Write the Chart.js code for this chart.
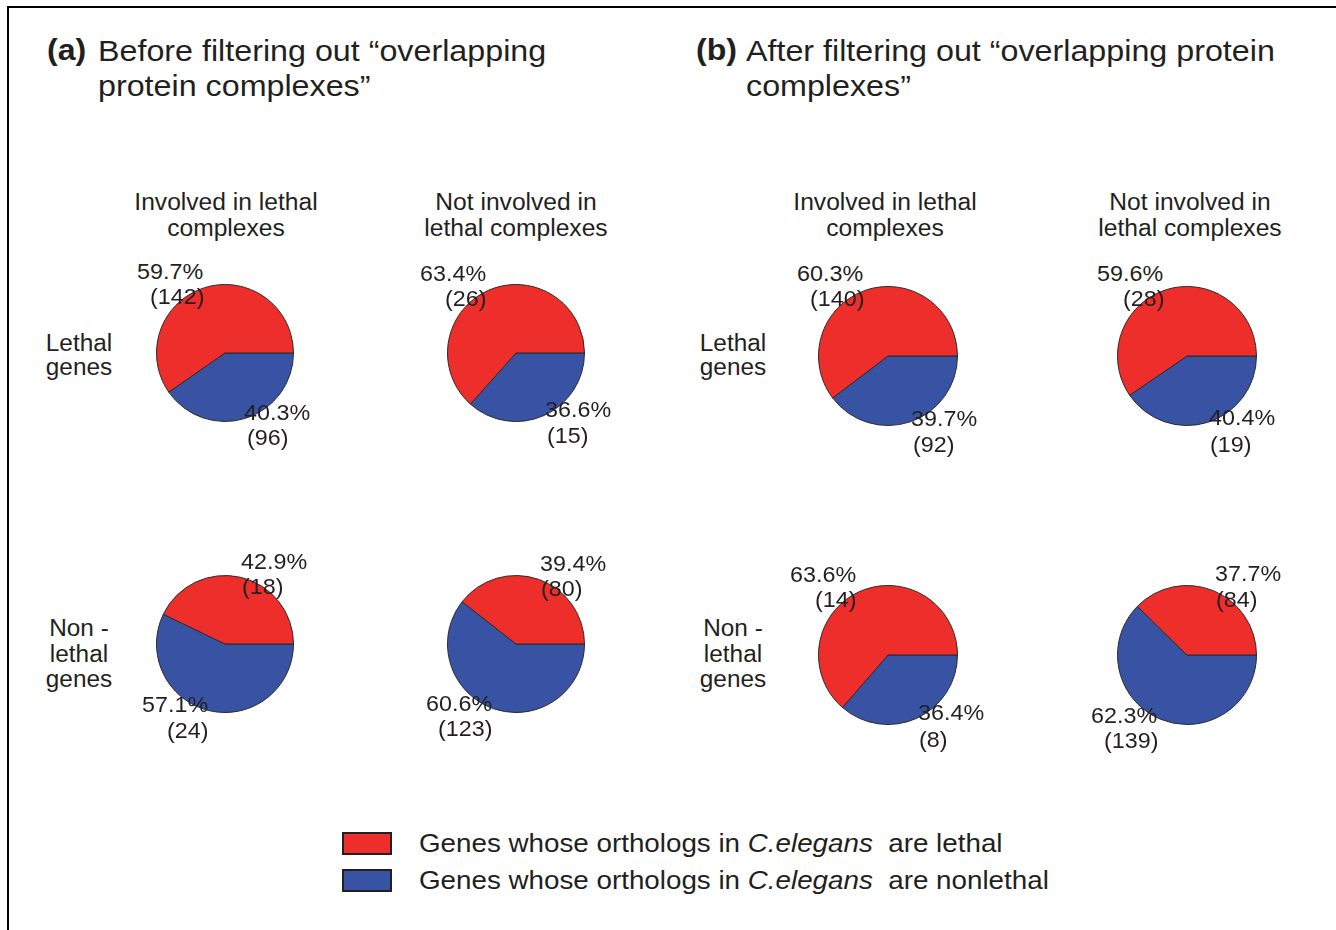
<!DOCTYPE html>
<html>
<head>
<meta charset="utf-8">
<script src="https://cdn.jsdelivr.net/npm/chart.js@4.4.1/dist/chart.umd.min.js"></script>
<style>
  html, body { margin:0; padding:0; background:#fff; }
  body { width:1336px; height:930px; position:relative; overflow:hidden; font-family:"Liberation Sans", Arial, Helvetica, sans-serif; color:#231f20; }
  .t { position:absolute; white-space:pre; transform-origin:left center; }
  .c { transform-origin:center center; text-align:center; }
  .box { position:absolute; }
  .frameTop { position:absolute; left:8px; top:6px; width:1328px; height:2px; background:#000; }
  .frameLeft { position:absolute; left:7px; top:6px; width:2px; height:924px; background:#000; }
  .leg { position:absolute; width:46px; height:19px; border:2px solid #231f20; }
</style>
</head>
<body>
<div class="frameTop"></div>
<div class="frameLeft"></div>
<div id="root"></div>
<script>
// ---- data ----
const panelTitles = [
  ['(a)', 'Before filtering out \u201coverlapping', 'protein complexes\u201d'],
  ['(b)', 'After filtering out \u201coverlapping protein', 'complexes\u201d']
];
const columnLabels = [['Involved in lethal', 'complexes'], ['Not involved in', 'lethal complexes']];
const rowLabels = [['Lethal', 'genes'], ['Non -', 'lethal', 'genes']];
const seriesNames = ['lethal', 'nonlethal'];
// order of pies: a-lethal-involved, a-lethal-not, a-nonlethal-involved, a-nonlethal-not, b-...
const lethalCounts    = [142, 26, 18, 80, 140, 28, 14, 84];
const nonlethalCounts = [96, 15, 24, 123, 92, 19, 8, 139];

// ---- layout (not data) ----
const RED = '#EE2E2B', BLUE = '#3953A4';
const pieLayout = [
  {cx:225, cy:353, s:138}, {cx:516, cy:353, s:138}, {cx:225, cy:644, s:138}, {cx:516, cy:644, s:138},
  {cx:888, cy:356, s:140}, {cx:1187, cy:356, s:140}, {cx:888, cy:655, s:140}, {cx:1187, cy:655, s:140}
];
// label positions: [pctX, pctY, cntX, cntY] for lethal (red) then nonlethal (blue)
const labelPos = [
  [[137,272,150,297],[244,413,247,438]],
  [[420,274,445,299],[545,410,547,436]],
  [[241,562,242,587],[142,705,167,731]],
  [[540,564,541,589],[426,704,438,729]],
  [[797,274,810,299],[911,419,913,445]],
  [[1097,274,1123,299],[1209,418,1210,445]],
  [[790,575,815,600],[918,713,919,740]],
  [[1215,574,1216,600],[1091,716,1104,741]]
];

const root = document.getElementById('root');
// lines: array of strings; cy = visual center of first line; lh = line spacing
function text(lines, x, cy, size, opts = {}) {
  const lh = opts.lh || size;
  const d = document.createElement('div');
  d.className = 't' + (opts.center ? ' c' : '');
  d.textContent = lines.join('\n');
  d.style.fontSize = size + 'px';
  d.style.lineHeight = lh + 'px';
  d.style.transform = 'scaleX(' + (opts.sx || 1.06) + ')';
  if (opts.center) d.style.transformOrigin = 'center center';
  if (opts.bold) d.style.fontWeight = 'bold';
  d.style.top = (cy - lh / 2) + 'px';
  if (opts.center) { d.style.left = (x - 300) + 'px'; d.style.width = '600px'; }
  else d.style.left = x + 'px';
  root.appendChild(d);
  return d;
}

// titles
const titleX = [[47, 98], [696, 746]];
panelTitles.forEach((t, i) => {
  text([t[0]], titleX[i][0], 50, 30, {bold:true, sx:1.07});
  text([t[1], t[2]], titleX[i][1], 50, 30, {lh:35, sx:1.075});
});
// column headers
const colCenters = [226, 516, 885, 1190];
colCenters.forEach((x, i) => {
  text(columnLabels[i % 2], x, 202, 23, {center:true, lh:26, sx:1.07});
});
// row labels
const rowCenters = [79, 733];
rowCenters.forEach(x => {
  text(rowLabels[0], x, 344, 23, {center:true, lh:23.5});
  text(rowLabels[1], x, 629, 23, {center:true, lh:25.5});
});

// pies
pieLayout.forEach((p, i) => {
  const wrap = document.createElement('div');
  wrap.className = 'box';
  wrap.style.left = (p.cx - p.s / 2) + 'px';
  wrap.style.top = (p.cy - p.s / 2) + 'px';
  wrap.style.width = p.s + 'px';
  wrap.style.height = p.s + 'px';
  const cv = document.createElement('canvas');
  cv.width = p.s; cv.height = p.s;
  wrap.appendChild(cv);
  root.appendChild(wrap);
  new Chart(cv, {
    type: 'pie',
    data: {
      labels: [seriesNames[1], seriesNames[0]],
      datasets: [{
        data: [nonlethalCounts[i], lethalCounts[i]],
        backgroundColor: [BLUE, RED],
        borderColor: '#2b2b2b',
        borderWidth: 1
      }]
    },
    options: {
      responsive: false,
      animation: false,
      rotation: 90,
      layout: { padding: 0 },
      plugins: { legend: { display: false }, tooltip: { enabled: false } }
    }
  });
  const total = lethalCounts[i] + nonlethalCounts[i];
  const vals = [lethalCounts[i], nonlethalCounts[i]];
  vals.forEach((v, k) => {
    const pos = labelPos[i][k];
    text([(100 * v / total).toFixed(1) + '%'], pos[0], pos[1], 22);
    text(['(' + v + ')'], pos[2], pos[3], 22);
  });
});

// legend
const legItems = [
  {color: RED, y: 843, tail: 'are lethal'},
  {color: BLUE, y: 880, tail: 'are nonlethal'}
];
legItems.forEach(it => {
  const b = document.createElement('div');
  b.className = 'leg';
  b.style.left = '342px';
  b.style.top = (it.y - 11.5) + 'px';
  b.style.background = it.color;
  root.appendChild(b);
  const d = document.createElement('div');
  d.className = 't';
  d.style.fontSize = '26px';
  d.style.lineHeight = '26px';
  d.style.transform = 'scaleX(1.068)';
  d.style.left = '419px';
  d.style.top = (it.y - 13) + 'px';
  d.innerHTML = 'Genes whose orthologs in <i>C.elegans</i>&nbsp; ' + it.tail;
  root.appendChild(d);
});
</script>
</body>
</html>
